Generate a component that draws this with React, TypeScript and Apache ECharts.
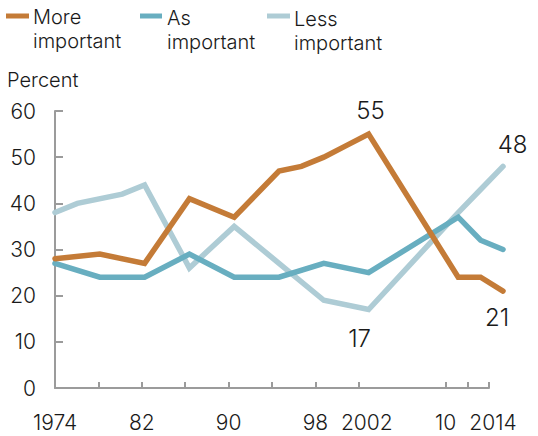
import React, { useEffect, useRef } from 'react';
import * as echarts from 'echarts';

// ---- data ----
const moreYears = [1974, 1978, 1982, 1986, 1990, 1994, 1996, 1998, 2000, 2002, 2010, 2012, 2014];
const moreValues = [28, 29, 27, 41, 37, 47, 48, 50, 52.5, 55, 24, 24, 21];

const asYears = [1974, 1978, 1982, 1986, 1990, 1994, 1998, 2002, 2010, 2012, 2014];
const asValues = [27, 24, 24, 29, 24, 24, 27, 25, 37, 32, 30];

const lessYears = [1974, 1976, 1980, 1982, 1986, 1990, 1994, 1998, 2002, 2010, 2012, 2014];
const lessValues = [38, 40, 42, 44, 26, 35, 27, 19, 17, 38, 43, 48];

const xTickYears = [1974, 1978, 1982, 1986, 1990, 1994, 1998, 2002, 2010, 2012, 2014];
const xLabelYears = [1974, 1982, 1990, 1998, 2002, 2010, 2014];

const seriesNames = ['More\nimportant', 'As\nimportant', 'Less\nimportant'];

// ---- styles ----
const FONT = 'Inter, "Liberation Sans", Arial, sans-serif';
const WEIGHT = 300;
const ORANGE = '#C47B37';
const TEAL = '#68AEC0';
const LIGHT = '#AECCD5';
const AXIS = '#9b9b9b';
const TEXT = '#1a1a1a';

type LabelMap = Record<number, [number, number]>;

function buildData(years: number[], values: number[], labels: LabelMap) {
  return years.map((yr, i) => {
    const off = labels[yr];
    if (!off) return [yr, values[i]];
    return {
      value: [yr, values[i]],
      label: {
        show: true,
        position: 'inside',
        offset: off,
        formatter: (p: any) => String(p.value[1]),
        color: TEXT,
        fontSize: 24,
        fontWeight: WEIGHT,
        fontFamily: FONT,
      },
    };
  });
}

function lineSeries(name: string, color: string, data: any[], z: number) {
  return {
    type: 'line',
    name,
    xAxisIndex: 0,
    yAxisIndex: 0,
    data,
    z,
    clip: false,
    symbol: 'circle',
    symbolSize: 2,
    showSymbol: true,
    showAllSymbol: true,
    itemStyle: { color: 'rgba(0,0,0,0)' },
    lineStyle: { color, width: 5.5, cap: 'round', join: 'miter' },
    emphasis: { disabled: true },
    label: { show: false },
  };
}

export default function App() {
  const ref = useRef<HTMLDivElement>(null);

  useEffect(() => {
    if (!ref.current) return;
    const chart = echarts.init(ref.current, undefined, { renderer: 'svg' });

    const twoDigit = (v: number) => {
      if (v === 1974) return '1974';
      if (v === 2002) return '{s|2002}';
      if (v === 2014) return '{t|2014}';
      return String(v % 100).padStart(2, '0');
    };

    const axisText = { fontSize: 21, color: TEXT, fontFamily: FONT, fontWeight: WEIGHT };
    const legendText = { fontSize: 20, lineHeight: 24, fill: TEXT, fontFamily: FONT, fontWeight: WEIGHT };

    const option: any = {
      animation: false,
      grid: [
        { left: 55, right: 35, top: 111, bottom: 48 },
        { left: 55, right: 49, top: 111, bottom: 48 },
      ],
      xAxis: [
        { gridIndex: 0, type: 'value', min: 1974, max: 2014, show: false },
        {
          gridIndex: 1,
          type: 'value',
          min: 1974,
          max: 2014,
          interval: 2,
          axisLine: { show: true, onZero: false, lineStyle: { color: AXIS, width: 2 } },
          axisTick: {
            show: true,
            inside: true,
            length: 6,
            customValues: xTickYears,
            lineStyle: { color: AXIS, width: 2 },
          },
          axisLabel: {
            show: true,
            customValues: xLabelYears,
            formatter: twoDigit,
            margin: 24,
            ...axisText,
            rich: {
              s: { ...axisText, padding: [0, 0, 0, 16] },
              t: { ...axisText, padding: [0, 0, 0, 8] },
            },
          },
          splitLine: { show: false },
        },
      ],
      yAxis: [
        { gridIndex: 0, type: 'value', min: 0, max: 60, show: false },
        {
          gridIndex: 1,
          type: 'value',
          min: 0,
          max: 60,
          interval: 10,
          axisLine: { show: true, onZero: false, lineStyle: { color: AXIS, width: 2 } },
          axisTick: { show: true, inside: true, length: 8, lineStyle: { color: AXIS, width: 2 } },
          axisLabel: { margin: 19, ...axisText },
          splitLine: { show: false },
        },
      ],
      series: [
        lineSeries(seriesNames[2], LIGHT, buildData(lessYears, lessValues, { 2002: [-9, 28.5], 2014: [9.5, -21.5] }), 2),
        lineSeries(seriesNames[1], TEAL, buildData(asYears, asValues, {}), 3),
        lineSeries(seriesNames[0], ORANGE, buildData(moreYears, moreValues, { 2002: [2, -23.5], 2014: [-6, 26.5] }), 4),
      ],
      graphic: [
        { type: 'rect', left: 6, top: 13.5, shape: { width: 23, height: 5 }, style: { fill: ORANGE } },
        { type: 'text', left: 33, top: 5, style: { text: seriesNames[0], ...legendText } },
        { type: 'rect', left: 140, top: 13.5, shape: { width: 22, height: 5 }, style: { fill: TEAL } },
        { type: 'text', left: 167, top: 5.5, style: { text: seriesNames[1], ...legendText } },
        { type: 'rect', left: 267, top: 13.5, shape: { width: 23, height: 5 }, style: { fill: LIGHT } },
        { type: 'text', left: 294, top: 7, style: { text: seriesNames[2], ...legendText } },
        { type: 'text', left: 7, top: 67.5, style: { text: 'Percent', ...legendText } },
      ],
    };

    chart.setOption(option);
    return () => chart.dispose();
  }, []);

  return (
    <div
      ref={ref}
      style={{ position: 'fixed', left: 0, top: 0, width: 538, height: 436, background: '#fff' }}
    />
  );
}
